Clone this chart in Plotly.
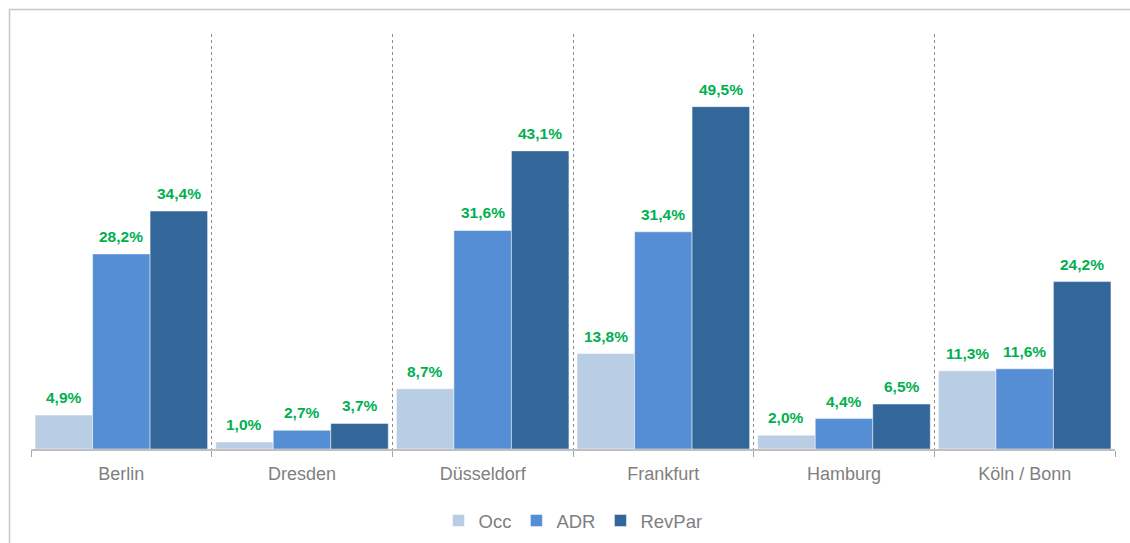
import plotly.graph_objects as go

cities = ["Berlin", "Dresden", "Düsseldorf", "Frankfurt", "Hamburg", "Köln / Bonn"]
occ = [4.9, 1.0, 8.7, 13.8, 2.0, 11.3]
adr = [28.2, 2.7, 31.6, 31.4, 4.4, 11.6]
revpar = [34.4, 3.7, 43.1, 49.5, 6.5, 24.2]

series = [("Occ", occ, "#B9CDE5"), ("ADR", adr, "#558ED5"), ("RevPar", revpar, "#336699")]

BARGAP = 0.045
bw = (1 - BARGAP) / len(series)

fig = go.Figure()
annotations = []
for k, (name, vals, col) in enumerate(series):
    fig.add_trace(go.Bar(
        x=cities, y=vals, name=name,
        marker=dict(color=col, line=dict(color="rgba(255,255,255,0.6)", width=0.8)),
        cliponaxis=False,
    ))
    for i, v in enumerate(vals):
        annotations.append(dict(
            x=i + (k - (len(series) - 1) / 2) * bw, y=v, xref="x", yref="y",
            text=f"{v:.1f}%".replace(".", ","), showarrow=False,
            yanchor="bottom", xanchor="center", yshift=7,
            font=dict(family="Liberation Sans, Arial, sans-serif", size=15.5, color="#00B050", weight="bold"),
        ))

W, H = 1130, 543
ml, mr, mt, mb = 31, 15, 34, 94
pw, ph = W - ml - mr, H - mt - mb

def px2x(px):
    return (px - ml) / pw

def px2y(py):
    return (H - mb - py) / ph

fig.update_layout(
    width=W, height=H,
    margin=dict(l=ml, r=mr, t=mt, b=mb, autoexpand=False),
    paper_bgcolor="white", plot_bgcolor="white",
    barmode="group", bargap=BARGAP, bargroupgap=0,
    showlegend=True,
    legend=dict(orientation="h", x=0.5, xanchor="center", y=px2y(521), yanchor="middle",
                font=dict(family="Liberation Sans, Arial, sans-serif", size=18.5, color="#7F7F7F"),
                itemwidth=30, tracegroupgap=0),
    xaxis=dict(type="category", tickson="boundaries", showgrid=True, gridcolor="#8C8C8C",
               griddash="dot", gridwidth=1, ticks="outside", ticklen=6, tickcolor="#A6A6A6",
               showline=True, linecolor="#BFBFBF", linewidth=1.5, ticklabelstandoff=8,
               automargin=False,
               tickfont=dict(family="Liberation Sans, Arial, sans-serif", size=18, color="#7F7F7F")),
    yaxis=dict(range=[0, 60], showgrid=False, showticklabels=False, zeroline=False, showline=False,
               automargin=False),
    annotations=annotations,
    shapes=[dict(type="rect", xref="paper", yref="paper",
                 x0=px2x(9.5), x1=px2x(1140), y0=px2y(560), y1=px2y(9.5),
                 line=dict(color="#C8C8C8", width=1.5), layer="below")],
)

fig.write_html("out.html", config={"displayModeBar": False},
               post_script="document.body.style.margin='0px';document.body.style.overflow='hidden';")
